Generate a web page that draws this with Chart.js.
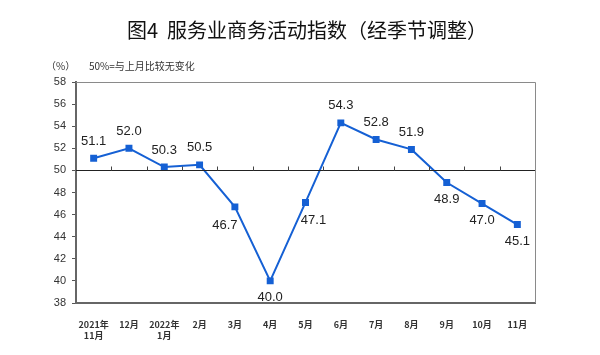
<!DOCTYPE html>
<html><head><meta charset="utf-8">
<script src="https://cdn.jsdelivr.net/npm/chart.js@4/dist/chart.umd.min.js"></script>
<style>html,body{margin:0;padding:0;background:#fff}#wrap{width:600px;height:355px}</style>
</head><body><div id="wrap"><canvas id="c" width="600" height="355"></canvas></div>
<script>
const categories = [["2021年","11月"],"12月",["2022年","1月"],"2月","3月","4月","5月","6月","7月","8月","9月","10月","11月"];
const values = [51.1,52.0,50.3,50.5,46.7,40.0,47.1,54.3,52.8,51.9,48.9,47.0,45.1];
const yTicks = [38,40,42,44,46,48,50,52,54,56,58];
const labelPlacement = ["t","t","t","t","bl","b","br","t","t","t","b","b","b"];
const titleText = "图4  服务业商务活动指数（经季节调整）";
const unitText = "（%）";
const noteText = "50%=与上月比较无变化";
const baseline = 50;

const cjk = '"Noto Sans CJK SC", "Liberation Sans", sans-serif';
const blue = '#1560d4';

const deco = {
  id: 'deco',
  afterDraw(chart) {
    const {ctx, chartArea: a, scales: {x, y}} = chart;
    ctx.save();
    ctx.strokeStyle = '#8a8a8a'; ctx.lineWidth = 1;
    ctx.beginPath();
    ctx.moveTo(a.left, a.top + 0.5); ctx.lineTo(a.right + 0.5, a.top + 0.5);
    ctx.lineTo(a.right + 0.5, a.bottom);
    ctx.stroke();
    const yb = Math.round(y.getPixelForValue(baseline)) + 0.5;
    ctx.strokeStyle = '#222'; ctx.lineWidth = 1;
    ctx.beginPath(); ctx.moveTo(a.left, yb); ctx.lineTo(a.right, yb); ctx.stroke();
    ctx.strokeStyle = '#444';
    for (let i = 0; i < categories.length - 1; i++) {
      const xb = Math.round((x.getPixelForValue(i) + x.getPixelForValue(i + 1)) / 2) + 0.5;
      ctx.beginPath(); ctx.moveTo(xb, yb); ctx.lineTo(xb, yb - 4); ctx.stroke();
    }
    ctx.restore();
  },
  afterDatasetsDraw(chart) {
    const {ctx} = chart;
    const meta = chart.getDatasetMeta(0);
    ctx.save();
    ctx.font = '13px "Liberation Sans", Arial, sans-serif';
    ctx.fillStyle = '#222';
    meta.data.forEach((pt, i) => {
      const v = values[i].toFixed(1);
      const p = labelPlacement[i];
      let dx = 0, dy = 0;
      if (p === 't') { dy = -17; }
      if (p === 'b') { dy = 17; }
      if (p === 'bl') { dy = 19; dx = -10; }
      if (p === 'br') { dy = 18; dx = 8; }
      ctx.textAlign = 'center'; ctx.textBaseline = 'middle';
      ctx.fillText(v, pt.x + dx, pt.y + dy);
    });
    ctx.restore();
  },
  beforeDraw(chart) {
    const {ctx} = chart;
    ctx.save();
    ctx.fillStyle = '#fff'; ctx.fillRect(0, 0, chart.width, chart.height);
    ctx.fillStyle = '#111';
    ctx.font = '20px ' + cjk;
    ctx.textAlign = 'center'; ctx.textBaseline = 'middle';
    ctx.fillText(titleText, 307, 30);
    ctx.font = '10px ' + cjk;
    ctx.fillStyle = '#333';
    ctx.textAlign = 'left';
    ctx.fillText(unitText, 46, 66);
    ctx.fillText(noteText, 89, 66);
    ctx.restore();
  }
};

new Chart(document.getElementById('c'), {
  type: 'line',
  data: {
    labels: categories,
    datasets: [{
      data: values,
      borderColor: blue, backgroundColor: blue,
      borderWidth: 2, pointStyle: 'rect', pointRadius: 3.5, pointHoverRadius: 3.5,
      tension: 0
    }]
  },
  options: {
    responsive: false, animation: false,
    devicePixelRatio: 1,
    layout: {padding: {top: 82, right: 65, left: 0, bottom: 0}},
    plugins: {legend: {display: false}, tooltip: {enabled: false}},
    scales: {
      x: {
        offset: true,
        grid: {display: false},
        border: {display: true, color: '#666', width: 2},
        ticks: {font: {size: 9, family: cjk, weight: 'bold'}, color: '#333', padding: 8, maxRotation: 0, autoSkip: false},
        afterFit(s) { s.height = 52; }
      },
      y: {
        min: 38, max: 58,
        afterBuildTicks(s) { s.ticks = yTicks.map(v => ({value: v})); },
        grid: {drawOnChartArea: false, drawTicks: true, tickLength: 4, color: '#555'},
        border: {display: true, color: '#666', width: 2},
        ticks: {font: {size: 11, family: '"Liberation Sans", Arial, sans-serif'}, color: '#333', padding: 6},
        afterFit(s) { s.width = 76; }
      }
    }
  },
  plugins: [deco]
});
</script></body></html>
